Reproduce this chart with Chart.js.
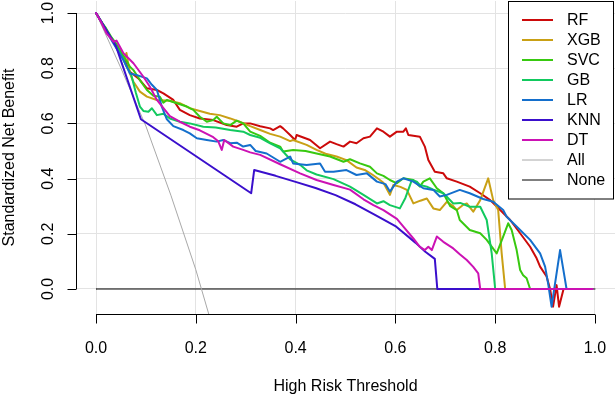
<!DOCTYPE html>
<html>
<head>
<meta charset="utf-8">
<script src="https://cdn.jsdelivr.net/npm/chart.js@4.4.1/dist/chart.umd.min.js"></script>
<style>
  html, body { margin: 0; padding: 0; background: #fff; }
  #wrap { width: 616px; height: 395px; position: relative; }
</style>
</head>
<body>
<div id="wrap"><canvas id="dca"></canvas></div>
<script>
// [threshold, standardized net benefit]
const rf = [[0,1],[0.01,0.97],[0.02,0.94],[0.03,0.91],[0.04,0.88],[0.05,0.85],[0.06,0.82],[0.068,0.787],[0.085,0.763],[0.102,0.727],[0.122,0.721],[0.135,0.709],[0.155,0.685],[0.168,0.649],[0.188,0.630],[0.208,0.618],[0.235,0.612],[0.262,0.594],[0.282,0.588],[0.295,0.600],[0.309,0.600],[0.329,0.590],[0.349,0.582],[0.355,0.576],[0.369,0.590],[0.375,0.582],[0.389,0.558],[0.399,0.540],[0.402,0.558],[0.429,0.540],[0.449,0.510],[0.469,0.534],[0.482,0.525],[0.496,0.516],[0.509,0.534],[0.522,0.528],[0.536,0.546],[0.549,0.552],[0.563,0.582],[0.576,0.570],[0.589,0.552],[0.603,0.570],[0.616,0.570],[0.621,0.582],[0.626,0.558],[0.649,0.552],[0.659,0.516],[0.666,0.467],[0.679,0.425],[0.696,0.419],[0.703,0.401],[0.723,0.389],[0.749,0.371],[0.770,0.347],[0.790,0.322],[0.810,0.286],[0.830,0.250],[0.850,0.202],[0.870,0.153],[0.883,0.111],[0.890,0.081],[0.903,0.045],[0.910,0],[0.916,-0.064],[0.923,0.014],[0.928,-0.064],[0.937,0],[0.99,0]];
const xgb = [[0,1],[0.01,0.97],[0.02,0.94],[0.03,0.91],[0.04,0.885],[0.05,0.855],[0.056,0.83],[0.061,0.855],[0.068,0.78],[0.075,0.751],[0.088,0.715],[0.102,0.697],[0.122,0.685],[0.148,0.682],[0.168,0.673],[0.188,0.655],[0.208,0.645],[0.228,0.635],[0.248,0.630],[0.269,0.618],[0.289,0.605],[0.309,0.590],[0.329,0.576],[0.349,0.562],[0.369,0.552],[0.389,0.536],[0.395,0.540],[0.422,0.522],[0.442,0.504],[0.460,0.490],[0.482,0.480],[0.502,0.467],[0.522,0.440],[0.540,0.430],[0.555,0.413],[0.569,0.395],[0.576,0.385],[0.589,0.341],[0.596,0.377],[0.610,0.370],[0.623,0.359],[0.636,0.310],[0.650,0.320],[0.663,0.328],[0.676,0.292],[0.689,0.286],[0.703,0.316],[0.716,0.300],[0.723,0.286],[0.736,0.305],[0.743,0.310],[0.756,0.280],[0.770,0.322],[0.786,0.401],[0.796,0.322],[0.806,0.286],[0.813,0.129],[0.820,0],[0.99,0]];
const svc = [[0,1],[0.01,0.97],[0.02,0.945],[0.03,0.915],[0.04,0.89],[0.05,0.86],[0.06,0.83],[0.068,0.805],[0.075,0.793],[0.088,0.757],[0.102,0.721],[0.115,0.70],[0.128,0.697],[0.135,0.675],[0.142,0.685],[0.162,0.673],[0.182,0.661],[0.195,0.649],[0.208,0.624],[0.222,0.606],[0.235,0.612],[0.242,0.624],[0.255,0.600],[0.269,0.594],[0.282,0.610],[0.295,0.600],[0.309,0.570],[0.329,0.555],[0.349,0.530],[0.369,0.516],[0.375,0.498],[0.395,0.504],[0.420,0.500],[0.442,0.491],[0.469,0.480],[0.496,0.461],[0.509,0.470],[0.529,0.455],[0.549,0.443],[0.563,0.419],[0.576,0.410],[0.589,0.395],[0.603,0.383],[0.616,0.401],[0.636,0.395],[0.649,0.371],[0.656,0.389],[0.669,0.401],[0.683,0.365],[0.696,0.347],[0.710,0.300],[0.723,0.286],[0.729,0.250],[0.749,0.214],[0.770,0.202],[0.783,0.178],[0.803,0.129],[0.816,0.190],[0.826,0.238],[0.833,0.214],[0.843,0.141],[0.850,0.069],[0.856,0.050],[0.863,0.039],[0.870,0],[0.99,0]];
const gb = [[0,1],[0.01,0.97],[0.02,0.94],[0.03,0.91],[0.04,0.88],[0.05,0.85],[0.06,0.81],[0.07,0.78],[0.08,0.71],[0.088,0.661],[0.095,0.645],[0.105,0.642],[0.112,0.655],[0.122,0.630],[0.135,0.635],[0.148,0.618],[0.168,0.606],[0.188,0.600],[0.215,0.588],[0.240,0.585],[0.269,0.576],[0.295,0.570],[0.309,0.558],[0.329,0.548],[0.349,0.528],[0.369,0.510],[0.389,0.470],[0.409,0.450],[0.422,0.430],[0.442,0.415],[0.476,0.398],[0.509,0.371],[0.536,0.341],[0.563,0.310],[0.576,0.318],[0.589,0.304],[0.609,0.292],[0.620,0.330],[0.633,0.395],[0.643,0.389],[0.649,0.377],[0.663,0.371],[0.676,0.360],[0.696,0.347],[0.703,0.334],[0.716,0.310],[0.730,0.312],[0.749,0.298],[0.770,0.298],[0.783,0.250],[0.793,0.129],[0.800,0],[0.99,0]];
const lr = [[0,1],[0.01,0.97],[0.02,0.935],[0.03,0.905],[0.035,0.890],[0.045,0.86],[0.055,0.830],[0.068,0.781],[0.082,0.775],[0.102,0.763],[0.112,0.740],[0.122,0.721],[0.132,0.660],[0.142,0.615],[0.155,0.590],[0.175,0.576],[0.188,0.564],[0.202,0.546],[0.222,0.540],[0.242,0.534],[0.255,0.540],[0.269,0.528],[0.282,0.530],[0.295,0.516],[0.309,0.522],[0.320,0.500],[0.342,0.491],[0.369,0.461],[0.389,0.480],[0.395,0.455],[0.422,0.449],[0.449,0.455],[0.459,0.425],[0.476,0.425],[0.502,0.431],[0.522,0.413],[0.543,0.419],[0.563,0.389],[0.580,0.380],[0.589,0.353],[0.603,0.389],[0.616,0.401],[0.636,0.389],[0.656,0.365],[0.676,0.359],[0.689,0.335],[0.703,0.341],[0.729,0.359],[0.749,0.347],[0.776,0.326],[0.796,0.316],[0.816,0.286],[0.823,0.262],[0.850,0.214],[0.870,0.178],[0.890,0.129],[0.900,0.081],[0.906,0.021],[0.913,-0.064],[0.930,0.141],[0.940,0.033],[0.943,0],[0.99,0]];
const knn = [[0,1],[0.01,0.97],[0.02,0.94],[0.03,0.91],[0.04,0.88],[0.09,0.615],[0.311,0.347],[0.317,0.431],[0.36,0.41],[0.40,0.388],[0.44,0.366],[0.48,0.34],[0.52,0.307],[0.56,0.268],[0.60,0.228],[0.64,0.168],[0.66,0.135],[0.679,0.109],[0.684,0],[0.99,0]];
const dt = [[0,1],[0.008,0.975],[0.021,0.926],[0.035,0.896],[0.041,0.900],[0.055,0.854],[0.075,0.818],[0.095,0.769],[0.108,0.733],[0.122,0.685],[0.138,0.649],[0.148,0.626],[0.168,0.606],[0.188,0.588],[0.208,0.575],[0.235,0.550],[0.245,0.535],[0.252,0.504],[0.257,0.540],[0.275,0.516],[0.295,0.504],[0.309,0.495],[0.329,0.486],[0.369,0.452],[0.409,0.419],[0.442,0.395],[0.476,0.377],[0.509,0.360],[0.536,0.325],[0.556,0.304],[0.576,0.286],[0.603,0.254],[0.616,0.226],[0.636,0.183],[0.649,0.153],[0.659,0.141],[0.666,0.153],[0.673,0.141],[0.683,0.190],[0.696,0.171],[0.716,0.147],[0.729,0.126],[0.743,0.105],[0.756,0.080],[0.766,0.057],[0.770,0],[0.995,0]];
const treatAll = [[0,1],[0.05,0.80],[0.1,0.59],[0.15,0.34],[0.2,0.07],[0.25,-0.24]];
const treatNone = [[0,0],[1,0]];

const xTicks = [0, 0.2, 0.4, 0.6, 0.8, 1.0];
const yTicks = [0, 0.2, 0.4, 0.6, 0.8, 1.0];
const seriesNames = ['RF', 'XGB', 'SVC', 'GB', 'LR', 'KNN', 'DT', 'All', 'None'];
const seriesData = [rf, xgb, svc, gb, lr, knn, dt, treatAll, treatNone];

// styles
const colors = ['#CC0A0A', '#C9A015', '#38C910', '#12C95E', '#146FCC', '#3A0FCC', '#CC12B4', '#A8A8A8', '#000000'];
const widths = [2, 2, 2, 2, 2, 2, 2, 1, 1];
const drawOrder = [7, 6, 5, 4, 3, 2, 1, 8, 9];
const FONT = '16px "Liberation Sans", Arial, sans-serif';

const datasets = seriesNames.map((name, i) => ({
  label: name,
  data: seriesData[i].map(([x, y]) => ({ x: x, y: y })),
  borderColor: colors[i],
  borderWidth: widths[i],
  pointRadius: 0,
  tension: 0,
  fill: false,
  borderJoinStyle: 'round',
  borderCapStyle: 'round',
  order: drawOrder[i]
}));

const fixedTicks = vals => scale => { scale.ticks = vals.map(v => ({ value: v })); };

// R style axes, drawn only between the first and last tick
const rAxes = {
  id: 'rAxes',
  afterDraw(chart) {
    const { ctx, chartArea: a, scales: { x, y } } = chart;
    ctx.save();
    ctx.strokeStyle = '#000';
    ctx.fillStyle = '#000';
    ctx.lineWidth = 1;
    ctx.font = FONT;

    const xb = Math.round(a.bottom) + 0.5;
    ctx.beginPath();
    ctx.moveTo(x.getPixelForValue(xTicks[0]), xb);
    ctx.lineTo(x.getPixelForValue(xTicks[xTicks.length - 1]), xb);
    xTicks.forEach(v => {
      const px = Math.round(x.getPixelForValue(v)) + 0.5;
      ctx.moveTo(px, xb);
      ctx.lineTo(px, xb + 9);
    });
    const yl = Math.round(a.left) + 0.5;
    ctx.moveTo(yl, y.getPixelForValue(yTicks[0]));
    ctx.lineTo(yl, y.getPixelForValue(yTicks[yTicks.length - 1]));
    yTicks.forEach(v => {
      const py = Math.round(y.getPixelForValue(v)) + 0.5;
      ctx.moveTo(yl, py);
      ctx.lineTo(yl - 9, py);
    });
    ctx.stroke();

    ctx.textAlign = 'center';
    ctx.textBaseline = 'alphabetic';
    xTicks.forEach(v => ctx.fillText(v.toFixed(1), x.getPixelForValue(v), 353));
    ctx.fillText('High Risk Threshold', (a.left + a.right) / 2, 391);

    yTicks.forEach(v => {
      ctx.save();
      ctx.translate(53, y.getPixelForValue(v));
      ctx.rotate(-Math.PI / 2);
      ctx.fillText(v.toFixed(1), 0, 0);
      ctx.restore();
    });
    ctx.save();
    ctx.translate(14, (a.top + a.bottom) / 2);
    ctx.rotate(-Math.PI / 2);
    ctx.fillText('Standardized Net Benefit', 0, 0);
    ctx.restore();
    ctx.restore();
  }
};

// boxed legend in the top right corner of the plot region
const boxLegend = {
  id: 'boxLegend',
  afterDatasetsDraw(chart) {
    const ctx = chart.ctx;
    const bx = 508.5, by = 1.5, bw = 105, bh = 197.5;
    ctx.save();
    ctx.fillStyle = '#fff';
    ctx.fillRect(bx, by, bw, bh);
    ctx.strokeStyle = '#000';
    ctx.lineWidth = 1;
    ctx.strokeRect(bx, by, bw, bh);
    ctx.font = FONT;
    ctx.textAlign = 'left';
    ctx.textBaseline = 'middle';
    chart.data.datasets.forEach((ds, i) => {
      const ry = 20 + i * 20;
      ctx.strokeStyle = ds.borderColor;
      ctx.lineWidth = ds.borderWidth;
      ctx.beginPath();
      ctx.moveTo(522, ry);
      ctx.lineTo(553, ry);
      ctx.stroke();
      ctx.fillStyle = '#000';
      ctx.fillText(ds.label, 567, ry + 1);
    });
    ctx.restore();
  }
};

new Chart(document.getElementById('dca'), {
  type: 'line',
  data: { datasets: datasets },
  options: {
    responsive: true,
    maintainAspectRatio: false,
    animation: false,
    layout: { padding: { left: 76, right: 1, top: 1, bottom: 81 } },
    plugins: { legend: { display: false }, tooltip: { enabled: false } },
    scales: {
      x: {
        type: 'linear',
        min: -0.0401,
        max: 1.0401,
        afterBuildTicks: fixedTicks(xTicks),
        afterFit: s => { s.height = 0; },
        ticks: { display: false },
        grid: { color: '#e3e3e3', lineWidth: 1, drawTicks: false },
        border: { display: false }
      },
      y: {
        type: 'linear',
        min: -0.0906,
        max: 1.0435,
        afterBuildTicks: fixedTicks(yTicks),
        afterFit: s => { s.width = 0; },
        ticks: { display: false },
        grid: { color: '#e3e3e3', lineWidth: 1, drawTicks: false },
        border: { display: false }
      }
    }
  },
  plugins: [rAxes, boxLegend]
});
</script>
</body>
</html>
